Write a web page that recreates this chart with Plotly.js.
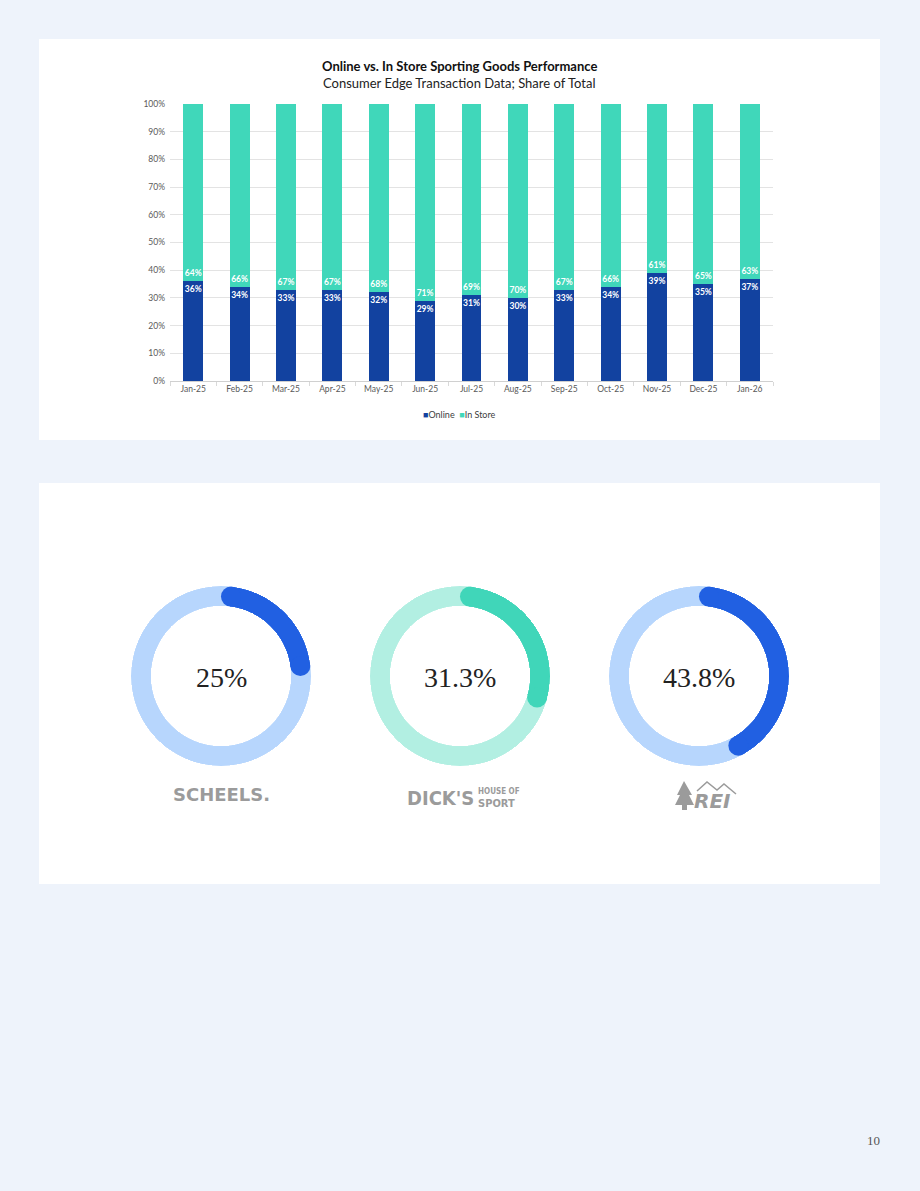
<!DOCTYPE html>
<html>
<head>
<meta charset="utf-8">
<script src="https://cdn.plot.ly/plotly-3.0.1.min.js"></script>
<style>
  html, body { margin: 0; padding: 0; background: #EEF3FB; }
  #chart { width: 920px; height: 1191px; }
</style>
</head>
<body>
<div id="chart"></div>
<script>
// ---- data ----
const months = ['Jan-25','Feb-25','Mar-25','Apr-25','May-25','Jun-25','Jul-25','Aug-25','Sep-25','Oct-25','Nov-25','Dec-25','Jan-26'];
const online = [36, 34, 33, 33, 32, 29, 31, 30, 33, 34, 39, 35, 37];
const inStore = [64, 66, 67, 67, 68, 71, 69, 70, 67, 66, 61, 65, 63];
const yTickVals = [0, 10, 20, 30, 40, 50, 60, 70, 80, 90, 100];
const yTickText = ['0%', '10%', '20%', '30%', '40%', '50%', '60%', '70%', '80%', '90%', '100%'];
const seriesNames = ['Online', 'In Store'];
const retailers = ['SCHEELS', "DICK'S", 'REI'];
const shares = [25, 31.3, 43.8];
const shareLabels = ['25%', '31.3%', '43.8%'];

// ---- layout helpers ----
const W = 920, H = 1191;
const px = x => x / W;
const py = y => 1 - y / H;

const cOnline = '#1242A0', cStore = '#40D7BA';
const donutMain = ['#2160E2', '#40D6B9', '#2160E2'];
const donutLight = ['#B7D6FD', '#B2EFE2', '#B7D6FD'];
const donutCx = [221, 460, 699], donutCy = 676, Rout = 90, thick = 20;
const inset = (thick / 2) / (Rout - thick / 2) * 180 / Math.PI;
const logoGray = '#9b9b9b';

const traces = [
  {
    type: 'bar', x: months, y: online, name: seriesNames[0],
    marker: { color: cOnline, line: { width: 0 } },
    text: online.map(v => v + '%'), textposition: 'inside', insidetextanchor: 'end',
    textangle: 0, constraintext: 'none',
    textfont: { family: 'Lato, sans-serif', size: 8.5, color: '#ffffff', weight: 700 },
    showlegend: false, hoverinfo: 'skip'
  },
  {
    type: 'bar', x: months, y: inStore, name: seriesNames[1],
    marker: { color: cStore, line: { width: 0 } },
    text: inStore.map(v => v + '%'), textposition: 'inside', insidetextanchor: 'start',
    textangle: 0, constraintext: 'none',
    textfont: { family: 'Lato, sans-serif', size: 8.5, color: '#ffffff', weight: 700 },
    showlegend: false, hoverinfo: 'skip'
  }
];

const layout = {
  width: W, height: H,
  margin: { l: 0, r: 0, t: 0, b: 0 },
  paper_bgcolor: '#EEF3FB',
  plot_bgcolor: '#ffffff',
  showlegend: false,
  hovermode: false,
  barmode: 'stack',
  bargap: 0.57,
  xaxis: {
    domain: [px(170), px(773)], type: 'category',
    tickfont: { family: 'Lato, sans-serif', size: 8.5, color: '#595959' },
    ticks: 'outside', tickson: 'boundaries', ticklen: 4, tickcolor: '#d9d9d9',
    showline: true, linecolor: '#d0d0d0', linewidth: 1, showgrid: false, fixedrange: true
  },
  yaxis: {
    domain: [py(381), py(104)], range: [0, 100],
    tickmode: 'array', tickvals: yTickVals, ticktext: yTickText,
    tickfont: { family: 'Lato, sans-serif', size: 8.5, color: '#595959' },
    ticks: '', ticklabelstandoff: 4,
    showgrid: true, gridcolor: '#e3e3e3', gridwidth: 1, zeroline: false, showline: false, fixedrange: true
  },
  shapes: [
    { type: 'rect', xref: 'paper', yref: 'paper', x0: px(39), x1: px(880), y0: py(440), y1: py(39),
      fillcolor: '#ffffff', line: { width: 0 }, layer: 'below' },
    { type: 'rect', xref: 'paper', yref: 'paper', x0: px(39), x1: px(880), y0: py(884), y1: py(483),
      fillcolor: '#ffffff', line: { width: 0 }, layer: 'below' },
    // REI logo: tree
    { type: 'path', xref: 'paper', yref: 'paper',
      path: `M ${px(684)} ${py(781)} L ${px(677)} ${py(795)} L ${px(680)} ${py(795)} L ${px(675)} ${py(805)} L ${px(682)} ${py(805)} L ${px(682)} ${py(810)} L ${px(687)} ${py(810)} L ${px(687)} ${py(805)} L ${px(694)} ${py(805)} L ${px(689)} ${py(795)} L ${px(692)} ${py(795)} Z`,
      fillcolor: logoGray, line: { width: 0 } },
    // REI logo: mountains
    { type: 'path', xref: 'paper', yref: 'paper',
      path: `M ${px(697)} ${py(791)} L ${px(707)} ${py(782)} L ${px(717)} ${py(790)} L ${px(724)} ${py(784)} L ${px(736)} ${py(794)}`,
      line: { color: logoGray, width: 1.5 } }
  ],
  annotations: [
    { xref: 'paper', yref: 'paper', x: px(459), y: py(66), showarrow: false, xanchor: 'center', yanchor: 'middle',
      text: '<b>Online vs. In Store Sporting Goods Performance</b>',
      font: { family: 'Lato, sans-serif', size: 13, color: '#111111' } },
    { xref: 'paper', yref: 'paper', x: px(459), y: py(83), showarrow: false, xanchor: 'center', yanchor: 'middle',
      text: 'Consumer Edge Transaction Data; Share of Total',
      font: { family: 'Lato, sans-serif', size: 13, color: '#222222' } },
    { xref: 'paper', yref: 'paper', x: px(421), y: py(414), showarrow: false, xanchor: 'left', yanchor: 'middle',
      text: `<span style="color:${cOnline}">■</span>${seriesNames[0]}  <span style="color:${cStore}">■</span>${seriesNames[1]}`,
      font: { family: 'Lato, sans-serif', size: 9, color: '#404040' } },
    { xref: 'paper', yref: 'paper', x: px(873), y: py(1140), showarrow: false, xanchor: 'center', yanchor: 'middle',
      text: '10', font: { family: 'Liberation Serif, serif', size: 13, color: '#555555' } },
    // logos
    { xref: 'paper', yref: 'paper', x: px(221), y: py(794), showarrow: false, xanchor: 'center', yanchor: 'middle',
      text: '<b>' + retailers[0] + '.</b>', font: { family: 'DejaVu Sans, sans-serif', size: 18, color: logoGray } },
    { xref: 'paper', yref: 'paper', x: px(405), y: py(798), showarrow: false, xanchor: 'left', yanchor: 'middle',
      text: '<b>' + retailers[1] + '</b>', font: { family: 'DejaVu Sans Condensed, DejaVu Sans, sans-serif', size: 20, color: logoGray } },
    { xref: 'paper', yref: 'paper', x: px(476), y: py(792), showarrow: false, xanchor: 'left', yanchor: 'middle',
      text: '<b>HOUSE OF</b>', font: { family: 'DejaVu Sans Condensed, DejaVu Sans, sans-serif', size: 8, color: logoGray } },
    { xref: 'paper', yref: 'paper', x: px(476), y: py(803), showarrow: false, xanchor: 'left', yanchor: 'middle',
      text: '<b>SPORT</b>', font: { family: 'DejaVu Sans Condensed, DejaVu Sans, sans-serif', size: 11, color: logoGray } },
    { xref: 'paper', yref: 'paper', x: px(692), y: py(801), showarrow: false, xanchor: 'left', yanchor: 'middle',
      text: '<b><i>' + retailers[2] + '</i></b>', font: { family: 'DejaVu Sans, sans-serif', size: 20, color: logoGray } }
  ]
};

shares.forEach((s, i) => {
  const key = 'polar' + (i ? i + 1 : '');
  const cx = donutCx[i];
  layout[key] = {
    domain: { x: [px(cx - Rout), px(cx + Rout)], y: [py(donutCy + Rout), py(donutCy - Rout)] },
    hole: (Rout - thick) / Rout,
    bgcolor: 'rgba(0,0,0,0)',
    bargap: 0,
    radialaxis: { visible: false, range: [0, thick] },
    angularaxis: { visible: false, rotation: 90, direction: 'clockwise' }
  };
  const deg = s * 3.6;
  traces.push({
    type: 'barpolar', subplot: key, r: [thick], theta: [180], width: [360],
    marker: { color: donutLight[i], line: { width: 0 } }, showlegend: false, hoverinfo: 'skip'
  });
  traces.push({
    type: 'barpolar', subplot: key, r: [thick], theta: [deg / 2], width: [deg - 2 * inset],
    marker: { color: donutMain[i], line: { width: 0 } }, showlegend: false, hoverinfo: 'skip'
  });
  traces.push({
    type: 'scatterpolar', subplot: key, mode: 'markers', r: [thick / 2, thick / 2], theta: [inset, deg - inset],
    marker: { size: thick, color: donutMain[i], line: { width: 0 } }, showlegend: false, hoverinfo: 'skip'
  });
  layout.annotations.push({
    xref: 'paper', yref: 'paper', x: px(cx), y: py(donutCy + 2), showarrow: false, xanchor: 'center', yanchor: 'middle',
    text: shareLabels[i], font: { family: 'Liberation Serif, serif', size: 28, color: '#222222' }
  });
});

Plotly.newPlot('chart', traces, layout, { displayModeBar: false, staticPlot: true });
</script>
</body>
</html>
